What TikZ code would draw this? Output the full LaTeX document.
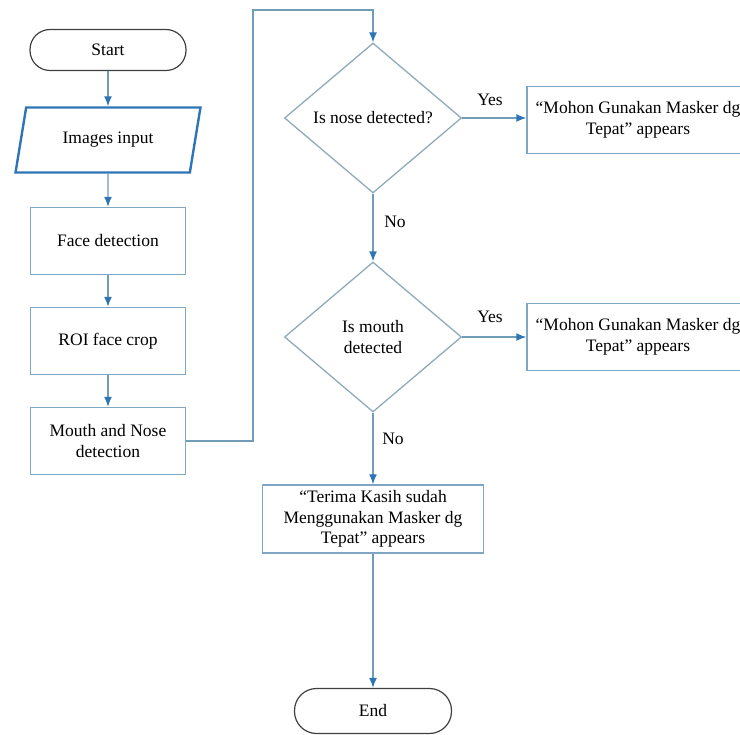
\documentclass[tikz,border=0pt]{standalone}
\usepackage{fontspec}
\setmainfont{Liberation Serif}
\newfontfamily\chartfont{Liberation Serif}
\usetikzlibrary{shapes.geometric,arrows.meta}
\definecolor{arrowblue}{HTML}{2E75B6}
\definecolor{linkline}{HTML}{6F9CB8}
\definecolor{boxline}{HTML}{7FA7C4}
\definecolor{termline}{HTML}{404040}
\definecolor{diamline}{HTML}{8FAABB}
\begin{document}
\begin{tikzpicture}[>={Latex[length=10pt,width=8pt,color=arrowblue]}, x=1pt, y=-1pt,
    font=\chartfont\fontsize{17.5}{20.5}\selectfont,
    term/.style={draw=termline, line width=1.2pt, rounded corners=20pt, minimum width=156pt, minimum height=41pt, inner sep=0pt},
    iobox/.style={draw=arrowblue, line width=2.4pt, trapezium, trapezium left angle=69, trapezium right angle=111, trapezium stretches=true, minimum width=185pt, minimum height=65pt, inner sep=0pt},
    procbox/.style={draw=boxline, line width=1.4pt, minimum width=155pt, minimum height=67pt, inner sep=0pt, align=center},
    msgbox/.style={draw=boxline, line width=1.4pt, minimum width=222pt, minimum height=67pt, inner sep=0pt, align=center},
    decision/.style={draw=diamline, line width=1.3pt, diamond, minimum width=177pt, minimum height=150pt, inner sep=0pt, align=center},
    flow/.style={->, draw=linkline, line width=1.4pt}]

\useasboundingbox (0,0) rectangle (740,735);
\clip (0,0) rectangle (740,735);

% left column
\node[term] (start) at (108,50) {Start};
\node[iobox] (input) at (108,140) {Images input};
\node[procbox] (face) at (108,241) {Face detection};
\node[procbox] (roi) at (108,341) {ROI face crop};
\node[procbox] (mn) at (108,441) {Mouth and Nose\\detection};

% right column
\node[decision] (nose) at (373,118) {Is nose detected?};
\node[msgbox] (warn1) at (638,120) {“Mohon Gunakan Masker dg\\Tepat” appears};
\node[decision] (mouth) at (373,337) {Is mouth\\detected};
\node[msgbox] (warn2) at (638,337) {“Mohon Gunakan Masker dg\\Tepat” appears};
\node[msgbox, minimum width=221pt, minimum height=68pt] (thanks) at (373,519) {“Terima Kasih sudah\\Menggunakan Masker dg\\Tepat” appears};
\node[term, minimum width=157pt, minimum height=45pt, rounded corners=22pt] (end) at (373,711) {End};

\coordinate (turn) at (253,10);

\draw[flow] (start) -- (input);
\draw[flow] (input) -- (face);
\draw[flow] (face) -- (roi);
\draw[flow] (roi) -- (mn);
\draw[flow] (mn.east) -| (turn) -| (nose.north);

\draw[flow] (nose.east) -- (warn1.west|-nose.east) node (yes1) at (490,100) {Yes};
\draw[flow] (nose) -- (mouth) node (no1) at (395,222) {No};
\draw[flow] (mouth.east) -- (warn2.west|-mouth.east) node (yes2) at (490,317) {Yes};
\draw[flow] (mouth) -- (thanks) node (no2) at (393,439) {No};
\draw[flow] (thanks) -- (end);

\end{tikzpicture}
\end{document}
